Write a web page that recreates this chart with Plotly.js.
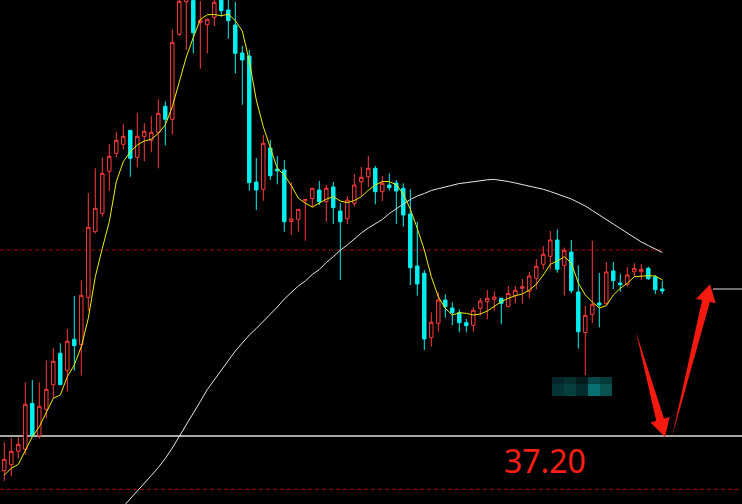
<!DOCTYPE html>
<html>
<head>
<meta charset="utf-8">
<script src="https://cdn.plot.ly/plotly-3.0.1.min.js"></script>
<style>
html,body{margin:0;padding:0;background:#000;}
#chart{width:742px;height:504px;}
</style>
</head>
<body>
<div id="chart"></div>
<script>
// ---- data (prices) ----
const openP = [36.853,36.913,37.047,37.067,37.527,37.203,37.467,37.713,38.027,37.857,
38.167,38.113,38.587,39.243,39.427,39.847,40.027,40.117,40.257,39.987,
40.197,40.157,40.237,40.497,40.367,41.217,41.543,41.555,41.333,41.313,
41.387,41.59,41.46,41.31,41.03,41.00,39.74,39.667,40.08,39.87,
39.86,39.345,39.367,39.553,39.575,39.66,39.543,39.69,39.45,39.373,
39.527,39.743,39.793,39.877,39.643,39.71,39.73,39.677,39.42,38.90,
38.827,38.183,38.327,38.56,38.48,38.433,38.333,38.307,38.477,38.543,
38.567,38.577,38.497,38.603,38.677,38.647,38.777,38.917,38.997,39.16,
38.907,39.04,38.64,38.235,38.417,38.53,38.527,38.85,38.73,38.717,
38.843,38.843,38.877,38.79,38.67];
const highP = [37.137,37.177,37.187,37.737,37.76,37.737,37.957,38.077,38.127,38.267,
38.60,38.757,39.63,39.877,39.987,40.117,40.24,40.317,40.257,40.427,
40.33,40.397,40.567,40.547,41.267,41.59,41.66,41.60,41.55,41.367,
41.58,41.62,41.57,41.54,41.10,41.06,39.98,40.21,40.16,40.00,
39.96,39.737,39.467,39.567,39.677,39.75,39.71,39.74,39.527,39.60,
39.82,39.89,40.00,39.90,39.80,39.827,39.76,39.727,39.667,39.343,
38.86,38.437,38.637,38.617,38.537,38.467,38.37,38.487,38.58,38.66,
38.647,38.577,38.70,38.70,38.77,38.84,38.97,39.097,39.25,39.265,
39.085,39.16,38.907,38.50,39.153,38.83,38.94,38.94,38.82,38.887,
38.927,38.92,38.893,38.81,38.75];
const lowP = [36.753,36.80,36.973,37.013,37.203,37.173,37.377,37.577,37.713,37.643,
37.853,37.803,38.453,39.227,39.393,39.653,39.987,40.067,39.793,39.887,
39.947,40.037,39.877,40.107,40.217,41.20,41.06,41.027,40.873,41.027,
41.30,41.393,41.173,40.827,40.513,39.653,39.46,39.553,39.76,39.717,
39.243,39.21,39.243,39.153,39.485,39.51,39.343,39.32,38.76,39.32,
39.493,39.60,39.69,39.517,39.55,39.653,39.32,39.293,38.71,38.603,
38.06,38.093,38.243,38.383,38.31,38.237,38.237,38.243,38.403,38.367,
38.453,38.317,38.487,38.527,38.523,38.577,38.667,38.867,38.867,38.833,
38.605,38.627,38.075,37.81,38.33,38.285,38.51,38.67,38.643,38.693,
38.793,38.76,38.76,38.62,38.62];
const closeP = [36.967,37.047,37.117,37.517,37.203,37.497,37.667,37.947,37.713,38.147,
38.103,38.607,39.287,39.477,39.827,39.997,40.157,40.197,39.977,40.197,
40.247,40.237,40.427,40.367,41.137,41.547,41.62,41.233,41.357,41.367,
41.537,41.453,41.353,41.027,40.96,39.733,39.66,40.127,39.803,39.85,
39.343,39.37,39.467,39.567,39.677,39.543,39.677,39.483,39.343,39.56,
39.71,39.787,39.877,39.643,39.727,39.683,39.65,39.41,38.883,38.72,
38.17,38.337,38.56,38.493,38.433,38.333,38.303,38.457,38.55,38.577,
38.59,38.527,38.627,38.657,38.693,38.80,38.897,39.017,39.16,38.867,
39.057,38.653,38.243,38.407,38.517,38.51,38.84,38.753,38.713,38.81,
38.877,38.867,38.773,38.663,38.65];
const maShort = [36.81,36.877,36.917,37.06,37.193,37.293,37.427,37.577,37.61,37.793,
37.91,38.093,38.377,38.793,39.077,39.343,39.743,39.943,40.043,40.11,
40.15,40.167,40.227,40.31,40.493,40.74,40.99,41.185,41.365,41.413,
41.415,41.403,41.418,41.355,41.25,40.95,40.56,40.293,40.077,39.875,
39.81,39.705,39.578,39.528,39.49,39.525,39.568,39.594,39.55,39.533,
39.555,39.592,39.657,39.71,39.744,39.744,39.712,39.62,39.47,39.275,
39.06,38.793,38.593,38.477,38.41,38.433,38.427,38.41,38.42,38.45,
38.50,38.543,38.577,38.603,38.62,38.66,38.717,38.81,38.917,38.95,
38.993,38.93,38.73,38.61,38.54,38.48,38.503,38.61,38.677,38.727,
38.793,38.80,38.803,38.80,38.76];
const maLong = [null,null,null,null,null,null,null,null,null,null,
null,null,null,null,null,null,null,36.495,36.57,36.65,
36.72,36.805,36.885,36.975,37.08,37.193,37.305,37.42,37.545,37.665,
37.76,37.86,37.96,38.05,38.13,38.21,38.275,38.345,38.415,38.49,
38.57,38.64,38.70,38.75,38.815,38.865,38.935,38.993,39.057,39.11,
39.17,39.23,39.28,39.32,39.365,39.425,39.475,39.52,39.565,39.60,
39.625,39.655,39.673,39.69,39.707,39.725,39.733,39.745,39.755,39.762,
39.766,39.758,39.745,39.73,39.715,39.70,39.685,39.667,39.645,39.622,
39.60,39.57,39.535,39.50,39.455,39.407,39.363,39.32,39.275,39.23,
39.185,39.14,39.105,39.07,39.035];
const supportLevel = 37.20;
const upperDashLevel = 39.06;
const lowerDashLevel = 36.667;
const lastPriceLevel = 38.67;
const idx = openP.map((_, i) => i);

// ---- layout helpers ----
const W = 742, H = 504;
const xRange = [-0.614, 105.386];
const yRange = [36.52, 41.56];
const px = v => v / W;
const py = v => 1 - v / H;
function poly(pts){
  return pts.map((p,i)=>(i?'L':'M')+px(p[0]).toFixed(5)+','+py(p[1]).toFixed(5)).join(' ')+' Z';
}
const arrowRed = '#f51a0f';
const downArrow = poly([[636,332],[664,418.6],[669.7,417],[665,437],[650.5,422.4],[656.2,420.8]]);
const upArrow = poly([[672,437],[709.9,302],[715.7,303.3],[710,284.3],[696,299],[702.1,300]]);

const mosaic = [
  [552,377,564,384,'#03262a'],[564,377,576,384,'#04302f'],[576,377,588,384,'#031a1c'],[588,377,600,384,'#06484a'],[600,377,612,384,'#053a3b'],
  [552,384,564,396,'#053437'],[564,384,576,396,'#053f3e'],[576,384,588,396,'#042b2d'],[588,384,600,396,'#087070'],[600,384,612,396,'#0a5252']
].map(r=>({type:'rect',xref:'paper',yref:'paper',x0:px(r[0]),x1:px(r[2]),y0:py(r[1]),y1:py(r[3]),
  fillcolor:r[4],line:{width:0},layer:'above'}));

const traces = [
  {type:'candlestick', x:idx, open:openP, high:highP, low:lowP, close:closeP,
   increasing:{line:{color:'#ff3b3b',width:1}, fillcolor:'#000000'},
   decreasing:{line:{color:'#00f0f0',width:1}, fillcolor:'#00f0f0'},
   whiskerwidth:0, hoverinfo:'skip', showlegend:false},
  {type:'scatter', mode:'lines', x:idx, y:maLong, line:{color:'#e8e8e8',width:1},
   hoverinfo:'skip', showlegend:false},
  {type:'scatter', mode:'lines', x:idx, y:maShort, line:{color:'#eeee00',width:1},
   hoverinfo:'skip', showlegend:false}
];

const layout = {
  width:W, height:H,
  margin:{l:0,r:0,t:0,b:0,pad:0},
  paper_bgcolor:'#000000', plot_bgcolor:'#000000',
  showlegend:false,
  xaxis:{range:xRange, visible:false, showgrid:false, zeroline:false, fixedrange:true, rangeslider:{visible:false}},
  yaxis:{range:yRange, visible:false, showgrid:false, zeroline:false, fixedrange:true},
  shapes:[
    {type:'line', xref:'x', yref:'y', x0:xRange[0], x1:idx[idx.length-1], y0:upperDashLevel, y1:upperDashLevel,
     line:{color:'#a80000',width:1,dash:'4px,3px'}, layer:'below'},
    {type:'line', xref:'paper', yref:'y', x0:0, x1:1, y0:lowerDashLevel, y1:lowerDashLevel,
     line:{color:'#a80000',width:1,dash:'4px,3px'}, layer:'below'},
    {type:'line', xref:'paper', yref:'y', x0:0, x1:1, y0:supportLevel, y1:supportLevel,
     line:{color:'#e0e0d8',width:1.5}, layer:'below'},
    {type:'line', xref:'paper', yref:'y', x0:px(713), x1:1, y0:lastPriceLevel, y1:lastPriceLevel,
     line:{color:'#e0e0e0',width:1}, layer:'above'},
    {type:'path', xref:'paper', yref:'paper', path:downArrow, fillcolor:arrowRed, line:{width:0}, layer:'above'},
    {type:'path', xref:'paper', yref:'paper', path:upArrow, fillcolor:arrowRed, line:{width:0}, layer:'above'}
  ].concat(mosaic),
  annotations:[
    {xref:'paper', yref:'paper', x:px(545), y:py(460), xanchor:'center', yanchor:'middle',
     text:supportLevel.toFixed(2), showarrow:false,
     font:{family:'Noto Sans, Open Sans, sans-serif', size:32, color:'#ff1e14'}}
  ]
};

Plotly.newPlot('chart', traces, layout, {staticPlot:true, displayModeBar:false});
</script>
</body>
</html>
